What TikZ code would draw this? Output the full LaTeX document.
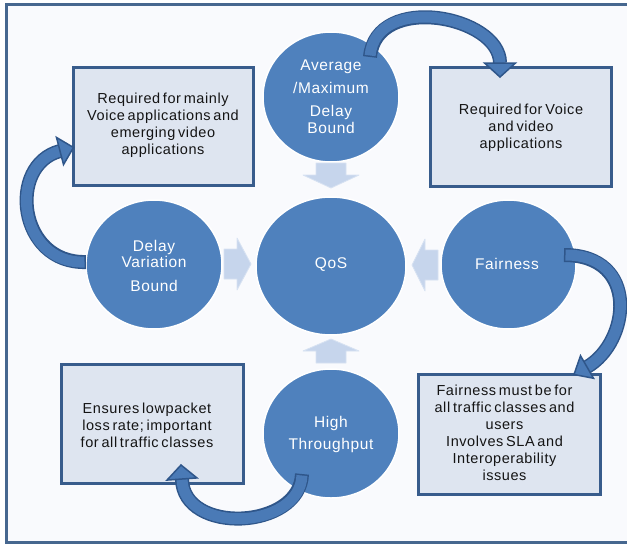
\documentclass[tikz,border=0pt]{standalone}
\usepackage{fontspec}
\setmainfont{Liberation Sans}[LetterSpace=4, WordSpace=0.6]
\usetikzlibrary{calc,shapes.geometric}
\definecolor{bgc}{HTML}{F9FAFD}
\definecolor{framec}{HTML}{46678F}
\definecolor{circc}{HTML}{4F81BD}
\definecolor{boxfill}{HTML}{DEE5F0}
\definecolor{boxline}{HTML}{385C8C}
\definecolor{fadec}{HTML}{C6D5EC}
\definecolor{arrfill}{HTML}{4A7AB6}
\definecolor{arrline}{HTML}{2F568A}
\tikzset{
  circ/.style={ellipse, fill=circc, draw=white, line width=1.5pt, inner sep=0pt},
  ctext/.style={text=white, align=center, inner sep=0pt, font=\fontsize{15.5}{17}\selectfont},
  box/.style={rectangle, fill=boxfill, draw=boxline, line width=3pt, inner sep=0pt},
  btext/.style={text=black!92, align=center, inner sep=0pt, font=\fontsize{14.5}{17}\selectfont},
  fade/.style={fill=fadec, draw=fadec!70!white, line width=0.8pt, line join=round},
  bandout/.style={draw=arrline, line width=14pt},
  bandin/.style={draw=arrfill, line width=11pt, shorten <=1.5pt},
  headstyle/.style={fill=arrfill, draw=arrline, line width=1.5pt, line join=miter},
}
\begin{document}
\begin{tikzpicture}[x=1pt,y=-1pt]
\useasboundingbox (0,0) rectangle (627,544);
\clip (0,0) rectangle (627,544);
\fill[white] (0,0) rectangle (627,544);
\draw[draw=framec, line width=3pt, fill=bgc] (6,4) rectangle (640,542);

% boxes
\node[box, minimum width=180pt, minimum height=118pt] (b1) at (163,126) {};
\node[box, minimum width=181pt, minimum height=119pt] (b2) at (520.5,126.5) {};
\node[box, minimum width=182pt, minimum height=119pt] (b3) at (152,423.5) {};
\node[box, minimum width=182pt, minimum height=120pt] (b4) at (509,434) {};
\node[btext] (b1t) at (163,125.5) {Required for mainly\\Voice applications and\\emerging video\\applications};
\node[btext] (b2t) at (521,128) {Required for Voice\\and video\\applications};
\node[btext] (b3t) at (147,425) {Ensures lowpacket\\loss rate; important\\for all traffic classes};
\node[btext] (b4t) at (504.5,432.5) {Fairness must be for\\all traffic classes and\\users\\Involves SLA and\\Interoperability\\issues};

% circles
\node[circ, minimum width=136pt, minimum height=130pt] (avg) at (331,97) {};
\node[circ, minimum width=150pt, minimum height=138pt] (qos) at (331,266) {};
\node[circ, minimum width=136pt, minimum height=129pt] (dv) at (154,264.5) {};
\node[circ, minimum width=135pt, minimum height=129pt] (fair) at (508.5,264.5) {};
\node[circ, minimum width=136pt, minimum height=129pt] (thr) at (331,433.5) {};
\node[ctext] (avgt) at (331,96.5) {Average\\[6pt]/Maximum\\[6pt]Delay\\Bound};
\node[ctext, font=\fontsize{15.5}{16}\selectfont] (dvt) at (154,266) {Delay\\Variation\\[8pt]Bound};
\node[ctext] (thrt) at (331,434) {High\\[5pt]Throughput};
\node[ctext] (qost) at (331,265) {QoS};
\node[ctext] (fairt) at (507,264) {Fairness};

% faded arrows towards QoS
\draw[fade] (316,163) -- (346,163) -- (346,175) -- (359,175) -- (331,188) -- (303,175) -- (316,175) -- cycle;
\draw[fade] (316,363) -- (346,363) -- (346,351) -- (359,351) -- (331,339) -- (303,351) -- (316,351) -- cycle;
\draw[fade] (224,249) -- (224,279) -- (237,279) -- (237,290) -- (251,264) -- (237,238) -- (237,249) -- cycle;
\draw[fade] (438,250) -- (438,280) -- (425,280) -- (425,291) -- (412,265) -- (425,239) -- (425,250) -- cycle;

% curved arrows
\coordinate (a1s) at (370,57);
\coordinate (a1b) at (500,63);
\coordinate (a1t) at (500,77);
\draw[bandout] (a1s) .. controls (376,-8) and (500,16) .. (a1b);
\draw[bandin] (a1s) .. controls (376,-8) and (500,16) .. (a1b);
\draw[headstyle] ($(a1b)!15.5pt!90:(a1t)$) -- (a1t) -- ($(a1b)!15.5pt!-90:(a1t)$) -- cycle;

\coordinate (a2s) at (86,262);
\coordinate (a2b) at (60,151);
\coordinate (a2t) at (73.5,147.5);
\draw[bandout] (a2s) .. controls (18,264) and (7,165) .. (a2b);
\draw[bandin] (a2s) .. controls (18,264) and (7,165) .. (a2b);
\draw[headstyle] ($(a2b)!14pt!90:(a2t)$) -- (a2t) -- ($(a2b)!14pt!-90:(a2t)$) -- cycle;

\coordinate (a3s) at (564,255);
\coordinate (a3b) at (587,367);
\coordinate (a3t) at (574,374.5);
\draw[bandout] (a3s) .. controls (640,255) and (630,342) .. (a3b);
\draw[bandin] (a3s) .. controls (640,255) and (630,342) .. (a3b);
\draw[headstyle] ($(a3b)!13pt!90:(a3t)$) -- (a3t) -- ($(a3b)!13pt!-90:(a3t)$) -- cycle;

\coordinate (a4s) at (302,474);
\coordinate (a4b) at (182,479);
\coordinate (a4t) at (181,465);
\draw[bandout] (a4s) .. controls (300,530) and (183,535) .. (a4b);
\draw[bandin] (a4s) .. controls (300,530) and (183,535) .. (a4b);
\draw[headstyle] ($(a4b)!15pt!90:(a4t)$) -- (a4t) -- ($(a4b)!15pt!-90:(a4t)$) -- cycle;
\end{tikzpicture}
\end{document}
